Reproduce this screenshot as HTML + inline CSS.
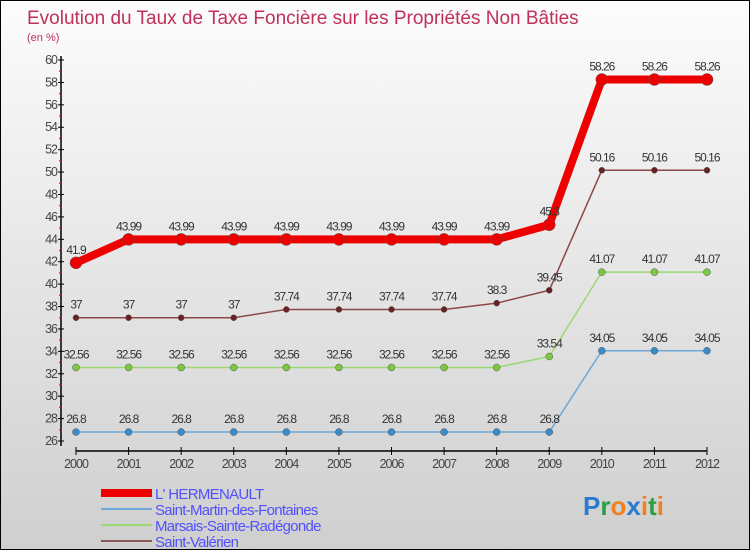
<!DOCTYPE html>
<html><head><meta charset="utf-8"><style>
body{margin:0;}
#c{width:748px;height:548px;border:1px solid #000;background:linear-gradient(#fcfcfc,#cfcfcf);position:relative;font-family:"Liberation Sans",sans-serif;overflow:hidden}
svg{position:absolute;left:0;top:0}
</style></head><body>
<div id="c">
<svg id="s" width="750" height="550">
<text x="26" y="23" font-size="19" fill="#c0305a">Evolution du Taux de Taxe Foncière sur les Propriétés Non Bâties</text>
<text x="26" y="40" font-size="11" fill="#c0305a">(en %)</text>
</svg>
</div>
<script>
const years=[2000,2001,2002,2003,2004,2005,2006,2007,2008,2009,2010,2011,2012];
const yTicks=[26,28,30,32,34,36,38,40,42,44,46,48,50,52,54,56,58,60];
const hermenault=[41.9,43.99,43.99,43.99,43.99,43.99,43.99,43.99,43.99,45.3,58.26,58.26,58.26];
const saintMartin=[26.8,26.8,26.8,26.8,26.8,26.8,26.8,26.8,26.8,26.8,34.05,34.05,34.05];
const marsais=[32.56,32.56,32.56,32.56,32.56,32.56,32.56,32.56,32.56,33.54,41.07,41.07,41.07];
const saintValerien=[37,37,37,37,37.74,37.74,37.74,37.74,38.3,39.45,50.16,50.16,50.16];
const seriesNames=["L' HERMENAULT","Saint-Martin-des-Fontaines","Marsais-Sainte-Radégonde","Saint-Valérien"];
const NS="http://www.w3.org/2000/svg";
const s=document.getElementById('s');
const X=i=>75+i*(706-75)/(years.length-1);
const Y=v=>59+(60-v)*(440-59)/34;
function el(t,a,p){const e=document.createElementNS(NS,t);for(const k in a)e.setAttribute(k,a[k]);(p||s).appendChild(e);return e;}
let ya=el('line',{x1:60,y1:55,x2:60,y2:445,stroke:'#000','stroke-width':1.5});


let xa=el('line',{x1:75,y1:450,x2:706,y2:450,stroke:'#000','stroke-width':1.5});


yTicks.forEach(v=>{
 el('line',{x1:57,y1:Y(v),x2:63,y2:Y(v),stroke:'#000'});
 if(v<60)el('line',{x1:58,y1:Y(v+1),x2:61,y2:Y(v+1),stroke:'#e00'});
 let t=el('text',{x:56,y:Y(v)+4,'font-size':12.5,fill:'#444','text-anchor':'end','letter-spacing':'-1'});
 t.textContent=v;
 
 
});
years.forEach((y,i)=>{
 el('line',{x1:X(i),y1:446,x2:X(i),y2:454,stroke:'#000'});
 let t=el('text',{x:X(i),y:467,'font-size':12.5,fill:'#444','text-anchor':'middle','letter-spacing':'-1'});
 t.textContent=y;
 
 
});
function series(data,color,w,r,dot,name){
 const g=el('g',{});
 
 
 el('polyline',{points:data.map((v,i)=>X(i)+','+Y(v)).join(' '),fill:'none',stroke:color,'stroke-width':w,'stroke-linejoin':'round'},g);
 data.forEach((v,i)=>{
  let c=el('circle',{cx:X(i),cy:Y(v),r:r,fill:dot,stroke:'#555','stroke-width':0.5},g);
  
  
  let t=el('text',{x:X(i),y:Y(v)-9,'font-size':12,fill:'#333','text-anchor':'middle','letter-spacing':'-1'},g);
  t.textContent=v;
  
  
 });
}
series(saintMartin,'#6fa8d6',1.5,3.5,'#3a8cc8','series-saint-martin');
series(marsais,'#9ad870',1.5,3.5,'#7cc840','series-marsais');
series(saintValerien,'#8a4848',1.5,3,'#6a2020','series-saint-valerien');
series(hermenault,'#ee0000',8,6,'#ee0000','series-hermenault');
const lc=['#ee0000','#6fa8d6','#9ad870','#8a5a5a'],lw=[8,2,2,2];
seriesNames.forEach((n,i)=>{
 const g=el('g',{});
 
 
 const y=492+i*16;
 el('line',{x1:100,y1:y,x2:151,y2:y,stroke:lc[i],'stroke-width':lw[i]},g);
 let t=el('text',{x:154,y:y+6,'font-size':15,fill:'#5050ff','letter-spacing':'-0.7'},g);
 t.textContent=n;
});
let logo=el('text',{x:582,y:514,'font-size':26,'font-weight':'bold'});


[['P','#2a7ad0'],['r','#2aa040'],['o','#f08020'],['x','#2a7ad0'],['i','#f08020'],['t','#2aa040'],['i','#f08020']].forEach(([c,f])=>{let sp=el('tspan',{fill:f},logo);sp.textContent=c;});
</script>
</body></html>
